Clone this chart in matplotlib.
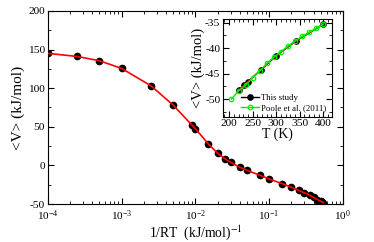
import matplotlib
matplotlib.use("Agg")
import matplotlib.pyplot as plt
from matplotlib.ticker import MultipleLocator

plt.rcParams['font.family'] = ['Liberation Serif', 'DejaVu Serif']
plt.rcParams['mathtext.fontset'] = 'stix'
plt.rcParams['axes.unicode_minus'] = False

# main panel: <V> vs 1/RT
inv_rt = [1e-4, 2.5e-4, 5e-4, 1e-3, 2.5e-3, 5e-3, 9e-3, 1e-2, 1.5e-2, 2e-2, 2.5e-2,
          3e-2, 4e-2, 5e-2, 7.5e-2, 0.1, 0.15, 0.2, 0.25, 0.301, 0.352, 0.401,
          0.450, 0.501, 0.518, 0.544]
v_main = [145, 141, 135.5, 125.5, 103, 78, 52, 47.5, 27.7, 15.7, 8.7,
          4.0, -2.5, -6.4, -12.8, -17.6, -23.7, -28.4, -32.3, -35.5, -38.6, -41.5,
          -44.3, -46.6, -47.3, -48.3]

# inset: <V> vs T
t_study = [221, 232, 240, 267, 300, 342, 400]
v_study = [-48.3, -47.3, -46.6, -44.3, -41.5, -38.6, -35.3]
t_poole = [205, 220, 235, 250, 265, 280, 295, 310, 325, 340, 355, 370, 385, 400]
v_poole = [-50.0, -48.4, -47.3, -45.8, -44.5, -43.0, -41.8, -40.7, -39.6,
           -38.6, -37.7, -36.9, -36.1, -35.3]

fig = plt.figure(figsize=(3.74, 2.42), dpi=100)
ax = fig.add_axes([0.128, 0.157, 0.789, 0.798])

ax.plot(inv_rt, v_main, 'o', color='black', ms=4.5, zorder=2)
ax.plot(inv_rt, v_main, '-', color='red', lw=1.2, zorder=3)
ax.set_xscale('log')
ax.set_xlim(1e-4, 1)
ax.set_ylim(-50, 200)
ax.yaxis.set_major_locator(MultipleLocator(50))
ax.yaxis.set_minor_locator(MultipleLocator(25))
ax.tick_params(which='both', direction='in', top=True, right=True, labelsize=8.2, pad=2)
ax.tick_params(axis='x', pad=3.5)
ax.tick_params(which='major', length=4.5)
ax.tick_params(which='minor', length=2.5)
ax.set_xlabel(r'1/RT  (kJ/mol)$^{-1}$', fontsize=9.8, labelpad=-0.5)
ax.set_ylabel('<V> (kJ/mol)', fontsize=11, labelpad=2)

ins = fig.add_axes([0.595, 0.515, 0.292, 0.406])
ins.plot(t_study, v_study, '-o', color='black', ms=3.8, lw=1.0, label='This study', zorder=2)
ins.plot(t_study, v_study, '-', color='red', lw=0.9, zorder=3)
ins.plot(t_poole, v_poole, '-o', color='#00ee00', mfc='none', ms=3.2, lw=1.0,
         mew=0.9, label='Poole et al. (2011)', zorder=4)
ins.set_xlim(186, 418)
ins.set_ylim(-53.6, -34.3)
ins.xaxis.set_major_locator(MultipleLocator(50))
ins.xaxis.set_minor_locator(MultipleLocator(10))
ins.yaxis.set_major_locator(MultipleLocator(5))
ins.yaxis.set_minor_locator(MultipleLocator(2.5))
ins.tick_params(which='both', direction='in', top=True, right=True, labelsize=8.2, pad=1.5)
ins.tick_params(which='major', length=4)
ins.tick_params(which='minor', length=2)
ins.set_xlabel('T (K)', fontsize=10, labelpad=-1)
ins.set_ylabel('<V> (kJ/mol)', fontsize=10.5, labelpad=0)
ins.legend(loc='lower right', frameon=False, fontsize=6.3, handlelength=2,
           borderaxespad=0.2, labelspacing=0.2, handletextpad=0.3)

fig.savefig('out.png', dpi=100)
